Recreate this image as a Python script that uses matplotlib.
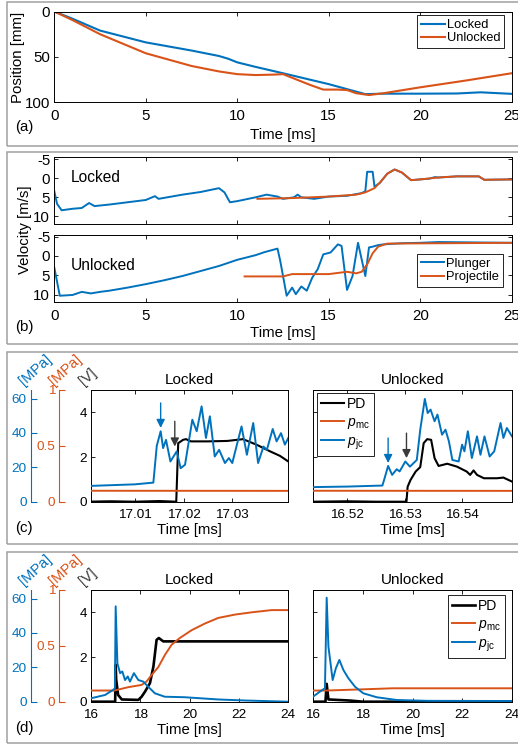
import numpy as np
import matplotlib
matplotlib.use("Agg")
import matplotlib.pyplot as plt
from matplotlib.patches import Rectangle

plt.rcParams['font.family'] = ['Liberation Sans', 'DejaVu Sans']
plt.rcParams['mathtext.fontset'] = 'custom'
plt.rcParams['mathtext.rm'] = 'Liberation Sans'
plt.rcParams['mathtext.it'] = 'Liberation Sans:italic'
plt.rcParams['axes.unicode_minus'] = False

BLUE = '#0072BD'
ORANGE = '#D95319'
GRAY = '#3a3a3a'

# (a) position [mm]
t_pos_locked = [0, 1, 2.5, 5, 7.5, 9, 9.5, 10, 11, 12.5, 15, 17, 18, 20, 22, 23.3, 25]
pos_locked = [0, 8, 21, 34, 43, 49, 52, 56, 61, 68, 80, 91, 90.5, 90.5, 90.3, 89, 90.7]
t_pos_unlocked = [0, 1, 2.5, 5, 7.5, 9, 10, 11, 12, 12.5, 13, 14, 14.7, 15.5, 16, 16.5, 17.2, 18, 20, 22.5, 25]
pos_unlocked = [0, 9.5, 25, 46, 60, 66, 69, 70, 69.5, 69, 73, 81, 86, 86, 86.5, 90, 92, 90, 83.5, 76, 68]

# (b) velocity [m/s], locked
t_vl_plunger = [0, 0.15, 0.4, 1, 1.5, 1.9, 2.2, 3, 4, 5, 5.5, 5.7, 7, 8, 9, 9.3, 9.6, 10, 11, 11.6,
                12.2, 12.5, 13.1, 13.3, 13.5, 14.2, 15, 16, 16.8, 17.0, 17.1, 17.4, 17.5, 17.8, 18.2,
                18.6, 19.0, 19.5, 20, 20.5, 20.8, 21, 22, 23.2, 23.5, 25]
vl_plunger = [3.4, 6.7, 8.4, 8.0, 7.8, 6.5, 7.3, 6.9, 6.3, 5.7, 4.7, 5.4, 4.3, 3.6, 2.6, 3.7, 6.3, 6.0, 5.0, 4.3,
              4.8, 5.4, 5.0, 4.3, 5.0, 5.4, 4.8, 4.6, 3.9, 3.4, -1.7, -1.7, 2.2, 1.2, -1.2,
              -2.3, -1.5, 0.5, 0.3, 0.1, -0.3, -0.2, -0.5, -0.5, 0.4, 0.3]
t_vl_proj = [11.1, 13, 15, 16.5, 17, 17.5, 17.8, 18.2, 18.6, 19.0, 19.5, 20, 21, 22, 23.2, 23.5, 25]
vl_proj = [5.4, 5.2, 4.8, 4.3, 3.7, 2.6, 1.1, -1.2, -2.3, -1.5, 0.5, 0.3, -0.2, -0.5, -0.5, 0.4, 0.3]

# (b) velocity [m/s], unlocked
t_vu_plunger = [0, 0.3, 1, 1.5, 2, 2.5, 3, 4, 5, 6, 7, 8, 9, 10, 10.5, 11, 11.5, 12.2, 12.35, 12.7,
                13.0, 13.2, 13.5, 13.8, 14.1, 14.4, 14.7, 15.1, 15.5, 15.7, 16.0, 16.3, 16.6, 16.8,
                17.0, 17.2, 17.4, 17.7, 18, 19, 20, 21, 25]
vu_plunger = [3.0, 10.3, 10.1, 9.3, 9.7, 9.3, 9.0, 8.2, 7.3, 6.3, 5.2, 3.9, 2.6, 1.0, 0.4, -0.2, -1.0, -1.9, 1.3, 10.3,
              8.2, 9.9, 7.9, 9.0, 5.6, 3.4, -0.4, -0.9, -3.0, -2.6, 8.8, 5.2, -3.4, 0.9,
              5.2, -2.2, -2.4, -2.8, -3.0, -3.3, -3.4, -3.6, -3.4]
t_vu_proj = [10.4, 12.5, 13, 15, 16, 16.5, 16.8, 17.1, 17.4, 17.7, 18.2, 25]
vu_proj = [5.3, 5.3, 4.7, 4.7, 4.1, 4.5, 4.1, 2.2, -0.7, -2.4, -3.2, -3.4]

# (c) zoom near impact: PD [V], p_mc [MPa], p_jc [MPa]
t_c_l_pd = [17.0, 17.005, 17.010, 17.015, 17.0185, 17.0189, 17.0199, 17.0205, 17.0215, 17.025, 17.029,
            17.0322, 17.0350, 17.0378, 17.0398, 17.0415]
c_l_pd = [0.0, 0.02, 0.0, 0.03, 0.0, 2.62, 2.77, 2.8, 2.7, 2.7, 2.72, 2.8, 2.55, 2.25, 2.05, 1.8]
t_c_l_mc = [17.0, 17.0415]
c_l_mc = [0.098, 0.097]
t_c_l_jc = [17.0, 17.005, 17.010, 17.0138, 17.0145, 17.0153, 17.0158, 17.0164, 17.0173, 17.0186, 17.0194,
            17.0203, 17.0218, 17.0227, 17.0237, 17.0246, 17.0254, 17.0264, 17.0273, 17.0285, 17.0293,
            17.0300, 17.0319, 17.0330, 17.0343, 17.0353, 17.0364, 17.0371, 17.0383, 17.0391, 17.0400,
            17.0408, 17.0415]
c_l_jc = [9.1, 9.6, 10.1, 11.1, 32.5, 41.0, 31.2, 36.0, 23.4, 29.3, 19.5, 21.5, 47.7, 41.0, 55.5, 37.1,
          49.7, 26.3, 30.2, 22.5, 25.4, 22.5, 43.8, 27.3, 45.8, 22.5, 32.1, 30.2, 42.3, 35.1, 39.9, 33.2, 37.1]

t_c_u_pd = [16.514, 16.520, 16.525, 16.5303, 16.5305, 16.531, 16.5319, 16.5327, 16.5333, 16.5339, 16.5346,
            16.5352, 16.5359, 16.5374, 16.5391, 16.5408, 16.5414, 16.5420, 16.5426, 16.5438, 16.5461,
            16.5472, 16.5487]
c_u_pd = [0.0, 0.02, 0.0, 0.0, 0.67, 0.97, 1.35, 1.55, 2.62, 2.8, 2.77, 1.95, 1.6, 1.7, 1.57, 1.35, 1.2,
          1.4, 1.2, 1.05, 1.05, 1.08, 0.9]
t_c_u_mc = [16.514, 16.5487]
c_u_mc = [0.098, 0.097]
t_c_u_jc = [16.514, 16.520, 16.5261, 16.5264, 16.5271, 16.5278, 16.5286, 16.5291, 16.5301, 16.5309,
            16.5321, 16.5327, 16.5335, 16.5340, 16.5345, 16.5352, 16.5357, 16.5365, 16.5371, 16.5377,
            16.5383, 16.5394, 16.5400, 16.5404, 16.5410, 16.5417, 16.5426, 16.5432, 16.5439, 16.5448,
            16.5456, 16.5467, 16.5472, 16.5478, 16.5487]
c_u_jc = [8.5, 8.8, 9.4, 12.7, 20.8, 15.6, 18.9, 17.6, 23.4, 20.4, 24.3, 41.9, 59.8, 51.6, 53.6, 46.8,
          50.7, 39.0, 41.9, 35.1, 24.3, 23.4, 33.2, 29.3, 41.0, 25.4, 38.0, 27.3, 38.0, 26.3, 29.3, 45.8,
          37.1, 42.9, 38.0]

# arrows (time, V from, V to)
c_l_arrows = [(17.0153, 4.42, 3.3, BLUE), (17.0182, 3.6, 2.47, GRAY)]
c_u_arrows = [(16.5271, 2.85, 1.73, BLUE), (16.5303, 3.07, 1.95, GRAY)]

# (d) wider window
t_d_l_pd = [16.0, 16.98, 17.0, 17.02, 17.1, 17.25, 17.92, 18.05, 18.19, 18.39, 18.53, 18.66, 18.75, 18.93, 24.0]
d_l_pd = [0.0, 0.0, 1.65, 1.0, 0.3, 0.1, 0.08, 0.22, 0.45, 0.83, 1.57, 2.77, 2.85, 2.7, 2.7]
t_d_l_mc = [16.0, 16.95, 17.51, 18.05, 18.25, 18.46, 18.73, 19.0, 19.27, 19.6, 20.08, 20.62, 21.16, 21.84,
            22.51, 23.32, 24.0]
d_l_mc = [0.10, 0.10, 0.13, 0.15, 0.18, 0.24, 0.31, 0.42, 0.51, 0.57, 0.64, 0.70, 0.75, 0.78, 0.80, 0.82, 0.82]
t_d_l_jc = [16.0, 16.57, 16.9, 16.97, 17.0, 17.07, 17.18, 17.27, 17.38, 17.49, 17.58, 17.74, 17.92, 18.12,
            18.32, 18.59, 18.99, 19.8, 21.16, 22.24, 24.0]
d_l_jc = [2.0, 3.9, 6.9, 7.8, 55.5, 22.4, 16.6, 17.6, 12.6, 14.7, 11.7, 16.6, 12.6, 11.7, 8.7, 4.9, 2.9,
          2.6, 1.3, 0.7, 0.0]

t_d_u_pd = [16.0, 16.5, 16.55, 16.62, 17.5, 18.0, 24.0]
d_u_pd = [0.0, 0.0, 0.8, 0.1, 0.05, 0.0, 0.0]
t_d_u_mc = [16.0, 16.55, 17.9, 19.2, 24.0]
d_u_mc = [0.10, 0.10, 0.11, 0.12, 0.12]
t_d_u_jc = [16.0, 16.28, 16.48, 16.55, 16.62, 16.79, 16.92, 17.06, 17.22, 17.42, 17.69, 18.02, 18.56,
            19.36, 20.6, 24.0]
d_u_jc = [2.9, 5.9, 7.8, 60.5, 32.1, 12.6, 19.5, 24.3, 18.5, 13.7, 8.7, 4.9, 2.6, 1.0, 0.5, 0.4]

W, H = 518, 747
fig = plt.figure(figsize=(W / 100, H / 100), dpi=100)


def axes_px(l, t, r, b):
    return fig.add_axes([l / W, 1 - b / H, (r - l) / W, (b - t) / H])


def txt(x, y, s, **kw):
    fig.text(x / W, 1 - y / H, s, **kw)


def style(ax, size, xpad=4.5):
    ax.tick_params(direction='in', length=3, width=0.6, top=True, right=True, labelsize=size, pad=3)
    ax.tick_params(axis='x', pad=xpad)
    for sp in ax.spines.values():
        sp.set_linewidth(0.7)


# panel frames
for top, bot in [(2, 146), (152, 344), (352, 544), (552, 743)]:
    fig.add_artist(Rectangle((7 / W, 1 - bot / H), 530 / W, (bot - top) / H, transform=fig.transFigure,
                             fill=False, edgecolor='#a0a0a0', lw=1.1))

# ---- (a)
ax = axes_px(54.3, 11.5, 511.7, 102.3)
ax.plot(t_pos_locked, pos_locked, color=BLUE, lw=1.5, label='Locked')
ax.plot(t_pos_unlocked, pos_unlocked, color=ORANGE, lw=1.5, label='Unlocked')
ax.set_xlim(0, 25)
ax.set_ylim(100, 0)
ax.set_xticks([0, 5, 10, 15, 20, 25])
ax.set_yticks([0, 50, 100])
style(ax, 10.8)
ax.legend(loc='upper right', bbox_to_anchor=(0.983, 0.96), fontsize=9.3, fancybox=False, framealpha=1,
          edgecolor='black', handlelength=1.8, handletextpad=0.15, borderpad=0.3, labelspacing=0.1,
          borderaxespad=0).get_frame().set_linewidth(0.6)
txt(18, 57, 'Position [mm]', rotation=90, ha='center', va='center', fontsize=10.8)
txt(283, 135, 'Time [ms]', ha='center', va='center', fontsize=10.8)
txt(15, 127, '(a)', ha='left', va='center', fontsize=10.8)

# ---- (b)
axl = axes_px(54.3, 157.3, 511.7, 224)
axu = axes_px(54.3, 234.7, 511.7, 302.3)
axl.plot(t_vl_plunger, vl_plunger, color=BLUE, lw=1.4)
axl.plot(t_vl_proj, vl_proj, color=ORANGE, lw=1.4)
axu.plot(t_vu_plunger, vu_plunger, color=BLUE, lw=1.4, label='Plunger')
axu.plot(t_vu_proj, vu_proj, color=ORANGE, lw=1.4, label='Projectile')
for a in (axl, axu):
    a.set_xlim(0, 25)
    a.set_ylim(12, -5.5)
    a.set_yticks([-5, 0, 5, 10])
    a.set_xticks([0, 5, 10, 15, 20, 25])
    style(a, 10.8)
axl.set_xticklabels([])
axl.text(0.035, 0.69, 'Locked', transform=axl.transAxes, fontsize=11.2, va='center')
axu.text(0.035, 0.55, 'Unlocked', transform=axu.transAxes, fontsize=11.2, va='center')
axu.legend(loc='lower right', bbox_to_anchor=(0.981, 0.226), fontsize=9.3, fancybox=False, framealpha=1,
           edgecolor='black', handlelength=1.8, handletextpad=0.15, borderpad=0.3, labelspacing=0.1,
           borderaxespad=0).get_frame().set_linewidth(0.6)
txt(25, 230, 'Velocity [m/s]', rotation=90, ha='center', va='center', fontsize=10.8)
txt(283, 333, 'Time [ms]', ha='center', va='center', fontsize=10.8)
txt(15, 327, '(b)', ha='left', va='center', fontsize=10.8)

# ---- (c) and (d)
panels = [
    dict(top=390, label='(c)', pdw=1.5, sets=[
        (t_c_l_pd, c_l_pd, t_c_l_mc, c_l_mc, t_c_l_jc, c_l_jc, (17.001, 17.0415), [17.01, 17.02, 17.03],
         ['17.01', '17.02', '17.03'], c_l_arrows, None),
        (t_c_u_pd, c_u_pd, t_c_u_mc, c_u_mc, t_c_u_jc, c_u_jc, (16.514, 16.5487), [16.52, 16.53, 16.54],
         ['16.52', '16.53', '16.54'], c_u_arrows, ('upper left', (0.02, 0.973)))]),
    dict(top=590, label='(d)', pdw=1.9, sets=[
        (t_d_l_pd, d_l_pd, t_d_l_mc, d_l_mc, t_d_l_jc, d_l_jc, (16, 24), [16, 18, 20, 22, 24],
         ['16', '18', '20', '22', '24'], [], None),
        (t_d_u_pd, d_u_pd, t_d_u_mc, d_u_mc, t_d_u_jc, d_u_jc, (16, 24), [16, 18, 20, 22, 24],
         ['16', '18', '20', '22', '24'], [], ('upper right', (0.965, 0.955)))]),
]
titles = ['Locked', 'Unlocked']
lefts = [(91, 288.3), (313, 512)]

for p in panels:
    top = p['top']
    bot = top + 111.7
    # extra scales
    for x0, col, lim, ticks, labs in [(30.7, BLUE, 65, [0, 20, 40, 60], ['0', '20', '40', '60']),
                                      (59.3, ORANGE, 1, [0, 0.5, 1], ['0', '0.5', '1'])]:
        s = axes_px(x0, top, x0 + 1, bot)
        s.patch.set_visible(False)
        for k in ('top', 'right', 'bottom'):
            s.spines[k].set_visible(False)
        s.spines['left'].set_color(col)
        s.spines['left'].set_linewidth(0.8)
        s.set_xticks([])
        s.set_ylim(0, lim)
        s.set_yticks(ticks)
        s.set_yticklabels(labs)
        s.tick_params(axis='y', direction='in', length=4, width=0.8, colors=col, labelsize=9.7, pad=3)
    txt(24, top - 4, '[MPa]', rotation=42, rotation_mode='anchor', ha='left', va='baseline',
        color=BLUE, fontsize=10.5)
    txt(54, top - 4, '[MPa]', rotation=42, rotation_mode='anchor', ha='left', va='baseline',
        color=ORANGE, fontsize=10.5)
    txt(84, top - 4, '[V]', rotation=42, rotation_mode='anchor', ha='left', va='baseline',
        color=GRAY, fontsize=10.5)

    for i, (tpd, pd_, tmc, mc, tjc, jc, xl, xt, xtl, arrows, leg) in enumerate(p['sets']):
        l, r = lefts[i]
        ax = axes_px(l, top, r, bot)
        h1, = ax.plot(tpd, pd_, color='black', lw=p['pdw'], label='PD')
        ax.set_ylim(0, 5)
        ax.set_xlim(*xl)
        ax.set_xticks(xt)
        ax.set_xticklabels(xtl)
        ax.set_yticks([0, 2, 4])
        if i == 1:
            ax.set_yticklabels([])
        style(ax, 9.7, xpad=5.5)
        ax.set_title(titles[i], fontsize=11, pad=4)
        ax.set_xlabel('Time [ms]', fontsize=10.7, labelpad=1)
        a2 = ax.twinx()
        h2, = a2.plot(tmc, mc, color=ORANGE, lw=1.4, label=r'$\mathit{p}_{\mathrm{mc}}$')
        a2.set_ylim(0, 1)
        a2.set_axis_off()
        a3 = ax.twinx()
        h3, = a3.plot(tjc, jc, color=BLUE, lw=1.4, label=r'$\mathit{p}_{\mathrm{jc}}$')
        a3.set_ylim(0, 65)
        a3.set_axis_off()
        for (ta, v0, v1, col) in arrows:
            a3.annotate('', xy=(ta, v1 * 13), xytext=(ta, v0 * 13),
                        arrowprops=dict(arrowstyle='-|>,head_width=0.25,head_length=0.5', color=col,
                                        lw=1.0, shrinkA=0, shrinkB=0))
        if leg is not None:
            lg = a3.legend(handles=[h1, h2, h3], loc=leg[0], bbox_to_anchor=leg[1], fontsize=10,
                           fancybox=False, framealpha=1, edgecolor='black', handlelength=1.65,
                           handletextpad=0.2, borderpad=0.3, labelspacing=0.25, borderaxespad=0)
            lg.get_frame().set_linewidth(0.6)
    txt(15, bot + 26, p['label'], ha='left', va='center', fontsize=10.8)

fig.savefig('out.png', dpi=100)
